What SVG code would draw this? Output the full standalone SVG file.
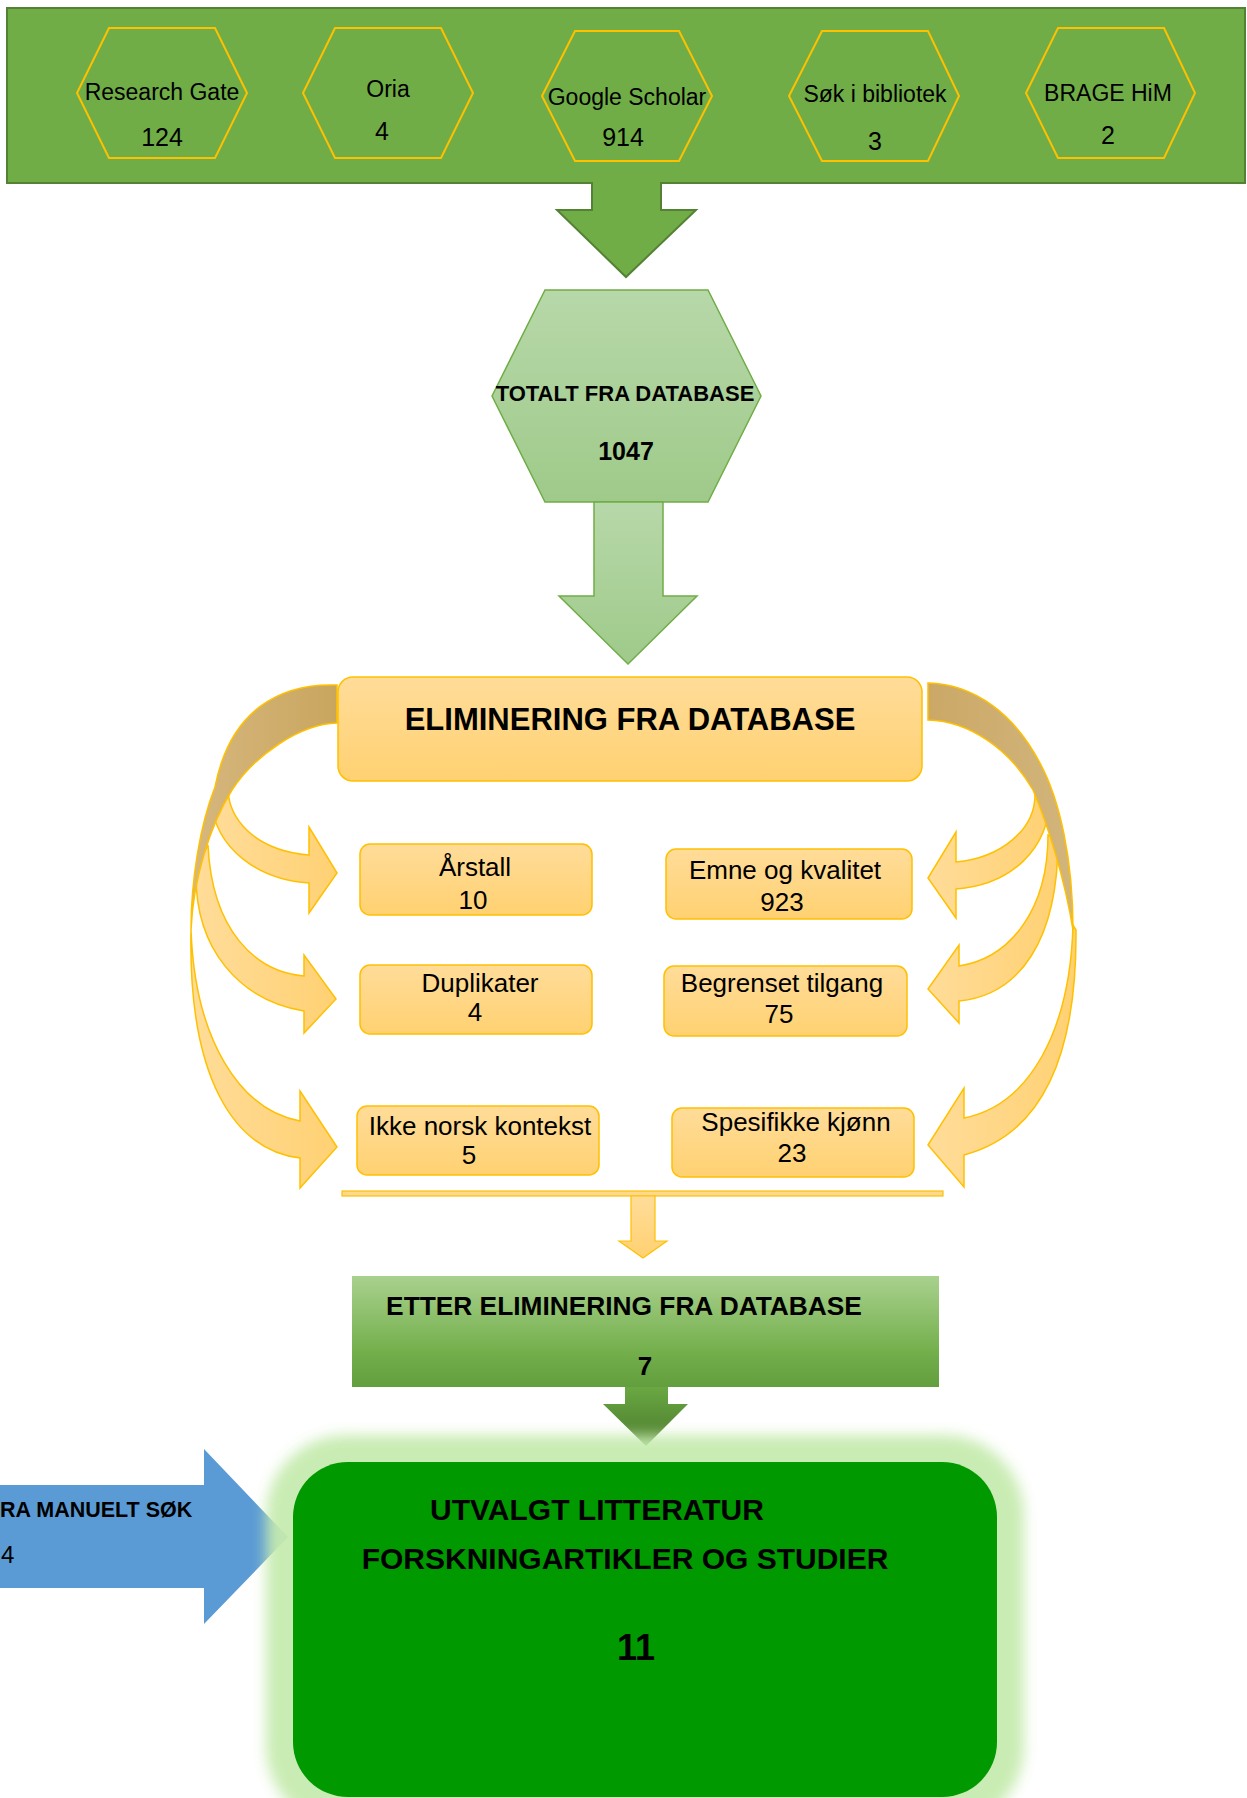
<svg xmlns="http://www.w3.org/2000/svg" width="1247" height="1798" viewBox="0 0 1247 1798">
<style>
text{font-family:"Liberation Sans",Arial,sans-serif;fill:#000;text-anchor:middle}
.hx{fill:#70AD47;stroke:#FFC000;stroke-width:2}
.ht{font-size:23px}
.hn{font-size:25px}
.b{font-weight:bold}
.box{fill:url(#gY);stroke:#FFC000;stroke-width:1.5}
.bt{font-size:26px}
.front{fill:url(#gYh);stroke:#FFC000;stroke-width:1.5}
</style>
<defs>
<linearGradient id="gHex" x1="0" y1="0" x2="0" y2="1"><stop offset="0" stop-color="#B7D8A9"/><stop offset="1" stop-color="#9FCA8A"/></linearGradient>
<linearGradient id="gY" x1="0" y1="0" x2="0" y2="1"><stop offset="0" stop-color="#FFDC99"/><stop offset="1" stop-color="#FFD171"/></linearGradient>
<linearGradient id="gYh" x1="0" y1="0" x2="1" y2="0"><stop offset="0" stop-color="#FFDC99"/><stop offset="1" stop-color="#FFD173"/></linearGradient>
<linearGradient id="gBrL" x1="0" y1="0" x2="1" y2="0"><stop offset="0" stop-color="#D6B77E"/><stop offset="1" stop-color="#C9A65F"/></linearGradient>
<linearGradient id="gBrR" x1="0" y1="0" x2="1" y2="0"><stop offset="0" stop-color="#CBA866"/><stop offset="1" stop-color="#D2B57C"/></linearGradient>
<linearGradient id="gEtter" x1="0" y1="0" x2="0" y2="1"><stop offset="0" stop-color="#A9D18E"/><stop offset="0.7" stop-color="#72AE4A"/><stop offset="1" stop-color="#629E3D"/></linearGradient>
<linearGradient id="gDark" x1="0" y1="0" x2="0" y2="1"><stop offset="0" stop-color="#6AA843"/><stop offset="1" stop-color="#4B7A2C"/></linearGradient>
<filter id="glow" x="-10%" y="-10%" width="120%" height="120%"><feGaussianBlur stdDeviation="7"/></filter>
</defs>

<g id="databases">
<path d="M7,8 H1245 V183 H661 V210 H696 L626,277 L557,210 H592 V183 H7 Z" fill="#70AD47" stroke="#548235" stroke-width="2"/>
<g id="research-gate"><polygon class="hx" points="77,93 109,28 215,28 247,93 215,158 109,158"/><text class="ht" x="162" y="100">Research Gate</text><text class="hn" x="162" y="146">124</text></g>
<g id="oria"><polygon class="hx" points="303,93 335,28 441,28 473,93 441,158 335,158"/><text class="ht" x="388" y="97">Oria</text><text class="hn" x="382" y="140">4</text></g>
<g id="google-scholar"><polygon class="hx" points="542,96 575,31 679,31 712,96 679,161 575,161"/><text class="ht" x="627" y="105">Google Scholar</text><text class="hn" x="623" y="146">914</text></g>
<g id="sok-bibliotek"><polygon class="hx" points="789,96 822,31 928,31 959,96 928,161 822,161"/><text class="ht" x="875" y="102">Søk i bibliotek</text><text class="hn" x="875" y="150">3</text></g>
<g id="brage"><polygon class="hx" points="1026,93 1058,28 1164,28 1195,93 1164,158 1058,158"/><text class="ht" x="1108" y="101">BRAGE HiM</text><text class="hn" x="1108" y="144">2</text></g>
</g>

<g id="totalt">
<polygon points="492,396 545,290 708,290 761,396 708,502 545,502" fill="url(#gHex)" stroke="#70AD47" stroke-width="1.5"/>
<text class="b" x="625" y="401" font-size="22">TOTALT FRA DATABASE</text>
<text class="b" x="626" y="460" font-size="25">1047</text>
</g>

<g id="connectors">
<path d="M594,502 H663 V596 H697 L628,664 L559,596 H594 Z" fill="url(#gHex)" stroke="#70AD47" stroke-width="1.5"/>
<!-- left curved arrows -->
<path class="front" d="M228,790 C229,815 250,850 309,855 L309,827 L337,873 L309,913 L309,883 C260,880 215,850 211,800 Z"/>
<path class="front" d="M208,845 C212,930 255,972 304,976 L304,955 L336,999 L304,1033 L304,1011 C240,1000 194,950 196,870 Z"/>
<path class="front" d="M191,930 C195,1040 240,1110 300,1121 L300,1091 L337,1147 L300,1188 L300,1158 C235,1150 188,1080 191,930 Z"/>
<path d="M337,685 C280,683 230,710 215,787 C200,825 191,880 191,930 C193,880 210,825 232,790 C255,755 300,724 337,723 Z" fill="url(#gBrL)" stroke="#FFC000" stroke-width="1.5"/>
<!-- right curved arrows -->
<path class="front" d="M1035,793 C1036,830 1000,858 956,862 L956,832 L928,878 L956,918 L956,889 C1010,885 1050,850 1050,795 Z"/>
<path class="front" d="M1048,835 C1048,910 1010,958 959,966 L959,945 L928,989 L959,1023 L959,1001 C1020,995 1058,940 1058,840 Z"/>
<path class="front" d="M1073,925 C1070,1030 1030,1105 964,1118 L964,1088 L928,1145 L964,1187 L964,1155 C1040,1135 1077,1060 1076,930 Z"/>
<path d="M928,683 C975,684 1015,715 1040,763 C1060,800 1073,860 1073,930 C1065,880 1048,825 1033,790 C1010,750 970,721 928,720 Z" fill="url(#gBrR)" stroke="#FFC000" stroke-width="1.5"/>
<!-- merge line and arrow -->
<rect x="342" y="1191" width="601" height="5" fill="#FFD98F" stroke="#FFC000" stroke-width="1.2"/>
<path d="M631,1196 H655 V1241 H667 L643,1258 L619,1241 H631 Z" fill="url(#gY)" stroke="#FFC000" stroke-width="1.2"/>
<path d="M625,1387 H668 V1404 H688 L646,1446 L603,1404 H625 Z" fill="url(#gDark)"/>
<path d="M0,1485 H204 V1449 L288,1537 L204,1624 V1588 H0 Z" fill="#5B9BD5"/>
</g>

<g id="eliminering">
<rect class="box" x="338" y="677" width="584" height="104" rx="15"/>
<text class="b" x="630" y="730" font-size="31">ELIMINERING FRA DATABASE</text>
</g>

<g id="arstall"><rect class="box" x="360" y="844" width="232" height="71" rx="10"/><text class="bt" x="475" y="876">Årstall</text><text class="bt" x="473" y="909">10</text></g>
<g id="duplikater"><rect class="box" x="360" y="965" width="232" height="69" rx="10"/><text class="bt" x="480" y="992">Duplikater</text><text class="bt" x="475" y="1021">4</text></g>
<g id="ikke-norsk"><rect class="box" x="357" y="1106" width="242" height="69" rx="10"/><text class="bt" x="480" y="1135">Ikke norsk kontekst</text><text class="bt" x="469" y="1164">5</text></g>
<g id="emne"><rect class="box" x="666" y="849" width="246" height="70" rx="10"/><text class="bt" x="785" y="879">Emne og kvalitet</text><text class="bt" x="782" y="911">923</text></g>
<g id="begrenset"><rect class="box" x="664" y="966" width="243" height="70" rx="10"/><text class="bt" x="782" y="992">Begrenset tilgang</text><text class="bt" x="779" y="1023">75</text></g>
<g id="spesifikke"><rect class="box" x="672" y="1108" width="242" height="69" rx="10"/><text class="bt" x="796" y="1131">Spesifikke kjønn</text><text class="bt" x="792" y="1162">23</text></g>

<g id="etter">
<rect x="352" y="1276" width="587" height="111" fill="url(#gEtter)"/>
<text class="b" x="624" y="1315" font-size="26.3">ETTER ELIMINERING FRA DATABASE</text>
<text class="b" x="645" y="1375" font-size="26">7</text>
</g>

<g id="manuelt">
<text class="b" x="0" y="1517" font-size="21.5" style="text-anchor:start">RA MANUELT SØK</text>
<text x="1" y="1563" font-size="24" style="text-anchor:start">4</text>
</g>

<g id="utvalgt">
<rect x="266" y="1435" width="758" height="392" rx="80" fill="#C6EBAF" filter="url(#glow)" opacity="0.95"/>
<rect x="293" y="1462" width="704" height="335" rx="55" fill="#009900"/>
<text class="b" x="597" y="1520" font-size="30">UTVALGT LITTERATUR</text>
<text class="b" x="625" y="1569" font-size="30">FORSKNINGARTIKLER OG STUDIER</text>
<text class="b" x="636" y="1660" font-size="36">11</text>
</g>
</svg>
